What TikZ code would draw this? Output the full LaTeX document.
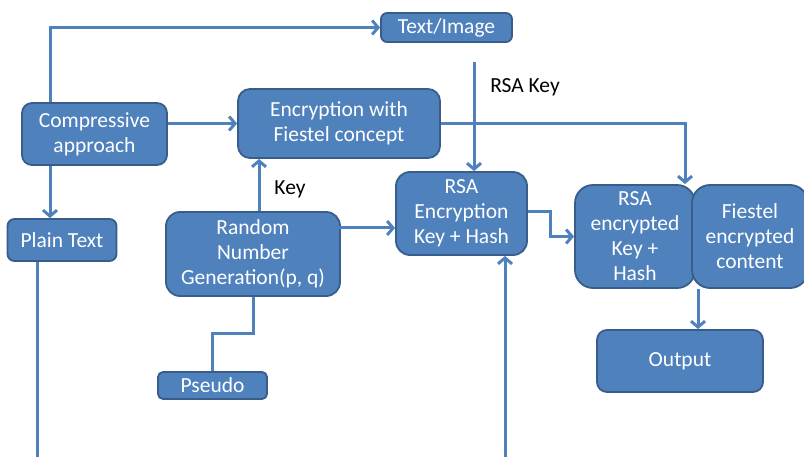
\documentclass[tikz,border=0pt]{standalone}
\usepackage{fontspec}
\setmainfont{Carlito}
\usepackage{xcolor}
\usepackage{tikz}
\usetikzlibrary{arrows.meta,positioning,calc}
\definecolor{boxfill}{RGB}{79,129,189}
\definecolor{boxline}{RGB}{56,93,138}
\definecolor{flowline}{RGB}{79,129,189}

\begin{document}
\begin{tikzpicture}[
  x=1pt, y=-1pt,
  every node/.style={font=\fontsize{21.5}{25}\selectfont},
  box/.style={draw=boxline, fill=boxfill, text=white, rounded corners=10pt, align=center, inner sep=2pt, line width=1.8pt},
  link/.style={draw=flowline, line width=3pt},
  arr/.style={link, -{Straight Barb[length=6pt,width=14pt,line width=3pt]}},
  lbl/.style={text=black, inner sep=1pt}
]
\useasboundingbox (0,0) rectangle (804,457);

\node[box, minimum width=131pt, minimum height=29pt, rounded corners=6pt] (textimg) at (446.5,27.5) {Text/Image};
\node[box, minimum width=145pt, minimum height=62pt] (compress) at (94.5,134) {Compressive\\ approach};
\node[box, minimum width=202pt, minimum height=69pt, rounded corners=12pt] (fiestel) at (339,123.5) {Encryption with\\ Fiestel concept};
\node[box, minimum width=109pt, minimum height=42pt, rounded corners=7pt] (plain) at (62,240) {Plain Text};
\node[box, minimum width=174pt, minimum height=84pt, rounded corners=14pt] (random) at (253,254) {Random\\ Number\\ Generation(p, q)};
\node[box, minimum width=131pt, minimum height=83pt, rounded corners=14pt] (rsaenc) at (461.5,213.5) {RSA\\ Encryption\\ Key + Hash};
\node[box, minimum width=120pt, minimum height=103pt, rounded corners=18pt] (rsaout) at (635,236.5) {RSA\\ encrypted\\ Key +\\ Hash};
\node[box, minimum width=116pt, minimum height=103pt, rounded corners=18pt] (fstout) at (750,236.5) {Fiestel\\ encrypted\\ content};
\node[box, minimum width=166pt, minimum height=62pt] (output) at (680,361) {Output};
\node[box, minimum width=109pt, minimum height=27pt, rounded corners=5pt] (pseudo) at (212.5,385.5) {Pseudo};

\coordinate (rsakey) at (474,62);
\coordinate (plainout) at (37,457);
\coordinate (hashin) at (505,457);

\node[lbl] (keylbl) at (290,189) {Key};
\node[lbl] (rsakeylbl) at (525,87) {RSA Key};

% connectors
\draw[arr] ([xshift=-44.5]compress.north) |- (textimg.west);
\draw[arr] (compress.east |- fiestel.west) -- (fiestel.west);
\draw[arr] ([xshift=-44.5]compress.south) -- ([xshift=-44.5]compress.south |- plain.north);
\draw[link] (plain.south -| plainout) -- (plainout);
\draw[arr] ([xshift=6]random.north) -- ([xshift=6]random.north |- fiestel.south);
\draw[arr] ([xshift=-15,yshift=26]random.east) -- ([yshift=26]random.east -| rsaenc.west);
\draw[link] (random.south) -- ++(0,37) -| (pseudo.north);
\draw[arr] (rsakey) -- (rsakey |- rsaenc.north);
\draw[arr] (fiestel.east) -| ([xshift=50]rsaout.north);
\draw[arr] ([yshift=1.5]rsaenc.east) -- ++(23,0) |- (rsaout.west);
\draw[arr] (hashin) -- (hashin |- rsaenc.south);
\draw[arr] ([xshift=18]output.north |- rsaout.south) -- ([xshift=18]output.north);
\end{tikzpicture}
\end{document}
